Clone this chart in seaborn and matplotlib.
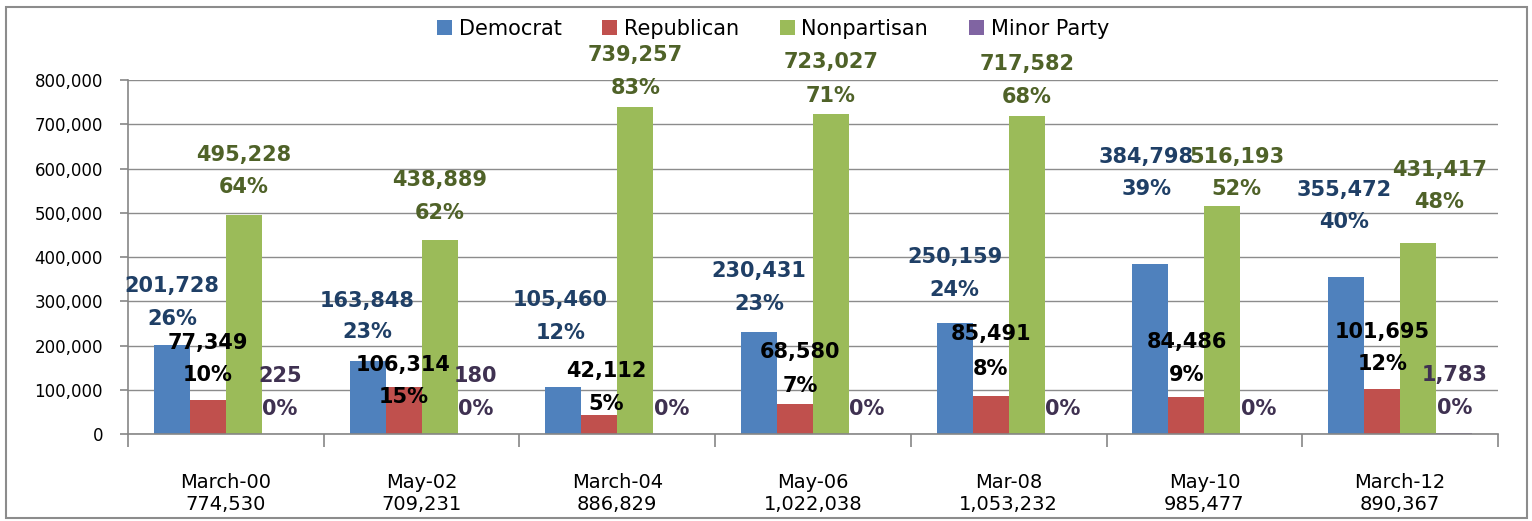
import matplotlib
matplotlib.use("Agg")
import matplotlib.pyplot as plt
from matplotlib.patches import Rectangle
import seaborn as sns
import pandas as pd

categories = ['March-00', 'May-02', 'March-04', 'May-06', 'Mar-08', 'May-10', 'March-12']
totals = [774530, 709231, 886829, 1022038, 1053232, 985477, 890367]
parties = ['Democrat', 'Republican', 'Nonpartisan', 'Minor Party']
democrat = [201728, 163848, 105460, 230431, 250159, 384798, 355472]
republican = [77349, 106314, 42112, 68580, 85491, 84486, 101695]
nonpartisan = [495228, 438889, 739257, 723027, 717582, 516193, 431417]
minor = [225, 180, 0, 0, 0, 0, 1783]
dem_pct = [26, 23, 12, 23, 24, 39, 40]
rep_pct = [10, 15, 5, 7, 8, 9, 12]
non_pct = [64, 62, 83, 71, 68, 52, 48]
min_pct = [0, 0, 0, 0, 0, 0, 0]

# styling
bar_colors = ['#4F81BD', '#C0504D', '#9BBB59', '#8064A2']
label_colors = ['#1F3F66', '#000000', '#4F6228', '#3F3151']
# label placement (pixels above bar top for value line, percent line; x shift)
dem_off = [(59, 26, 0), (60, 29, 0), (87, 54, -3), (61, 28, 0), (66, 33, 0), (107, 75, -4), (87, 55, -2)]
rep_off = [(57, 25, 0), (22, -10, 0), (44, 11, 7), (52, 18, 5), (62, 27, 0), (55, 22, 0), (57, 25, 0)]
non_off = [(60, 28, 0), (60, 27, 0), (52, 19, 0), (52, 18, 0), (52, 19, 0), (49, 17, 14), (73, 41, 21)]
min_off = [(58, 25, 0)] * 7

series = [democrat, republican, nonpartisan, minor]
pcts = [dem_pct, rep_pct, non_pct, min_pct]
offsets = [dem_off, rep_off, non_off, min_off]

rows = []
for p, vals in zip(parties, series):
    for c, v in zip(categories, vals):
        rows.append({'period': c, 'party': p, 'votes': v})
df = pd.DataFrame(rows)

sns.set_theme(style='white')
plt.rcParams['font.family'] = ['DejaVu Sans']
plt.rcParams['text.color'] = 'black'

fig = plt.figure(figsize=(15.32, 5.21), dpi=100)
ax = fig.add_axes([0.08355, 0.167, 0.8943, 0.6794])

sns.barplot(data=df, x='period', y='votes', hue='party', hue_order=parties,
            order=categories, palette=bar_colors, width=0.736, saturation=1,
            linewidth=0, ax=ax, legend=True)

ax.set_ylim(0, 800000)
ax.set_xlim(-0.5, 6.5)
ax.set_yticks(range(0, 800001, 100000))
ax.set_yticklabels([f"{v:,}" for v in range(0, 800001, 100000)], fontsize=12)
ax.set_xticks(range(len(categories)))
ax.set_xticklabels([f"{c}\n{t:,}" for c, t in zip(categories, totals)], fontsize=14)
ax.set_xticks([i - 0.5 for i in range(len(categories) + 1)], minor=True)
ax.tick_params(axis='x', which='major', length=0, pad=28, labelcolor='black')
ax.tick_params(axis='x', which='minor', length=9, color='#868686', width=1.2, direction='out', bottom=True)
ax.tick_params(axis='y', which='major', length=6, color='#868686', width=1.2, direction='out', left=True, pad=12,
               labelcolor='black')
ax.set_xlabel('')
ax.set_ylabel('')
ax.yaxis.grid(True, color='#8c8c8c', linewidth=1)
ax.set_axisbelow(True)
for s in ['top', 'right']:
    ax.spines[s].set_visible(False)
for s in ['left', 'bottom']:
    ax.spines[s].set_color('#868686')
    ax.spines[s].set_linewidth(1.2)

for k, cont in enumerate(ax.containers):
    for i, bar in enumerate(cont):
        x = bar.get_x() + bar.get_width() / 2
        h = bar.get_height()
        v = series[k][i]
        dv, dp, dx = offsets[k][i]
        ax.annotate(f"{pcts[k][i]}%", (x, h), xytext=(dx, dp), textcoords='offset pixels',
                    ha='center', va='center', fontsize=15, fontweight='bold',
                    color=label_colors[k], annotation_clip=False)
        if v > 0:
            ax.annotate(f"{v:,}", (x, h), xytext=(dx, dv), textcoords='offset pixels',
                        ha='center', va='center', fontsize=15, fontweight='bold',
                        color=label_colors[k], annotation_clip=False)

handles, labels = ax.get_legend_handles_labels()
leg = ax.legend(handles, labels, loc='center', bbox_to_anchor=(0.5046, 0.945),
                bbox_transform=fig.transFigure, ncol=4, frameon=False, fontsize=15,
                handlelength=0.72, handleheight=0.72, handletextpad=0.32, columnspacing=1.95,
                borderpad=0, borderaxespad=0)
for t in leg.get_texts():
    t.set_color('black')

fig.patches.append(Rectangle((0.0039, 0.0058), 0.9928, 0.9808, transform=fig.transFigure,
                             fill=False, edgecolor='#8c8c8c', linewidth=1.5))

fig.savefig('out.png', dpi=100)
